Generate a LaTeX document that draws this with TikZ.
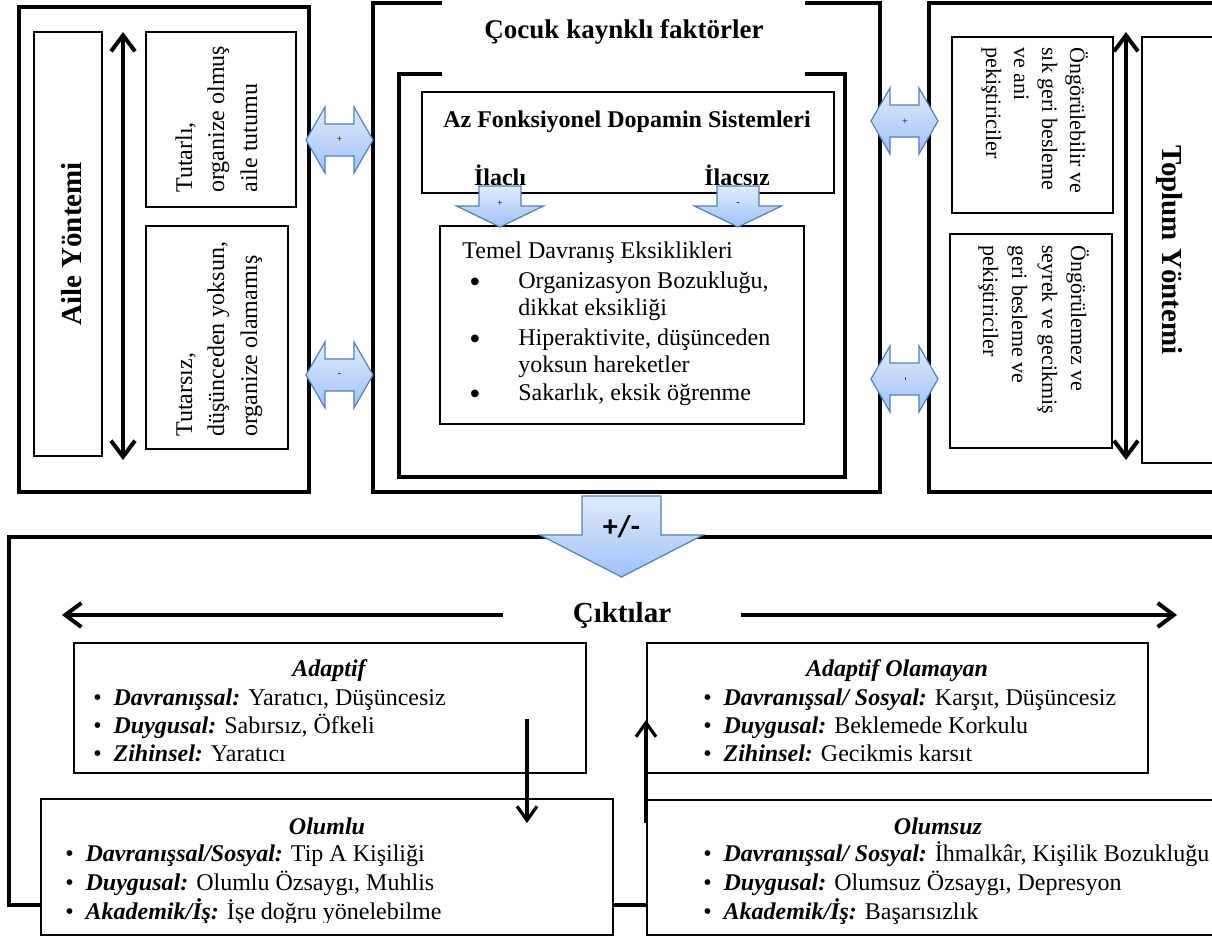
\documentclass[tikz,border=0pt]{standalone}
\usepackage{fontspec}
\setmainfont{Liberation Serif}
\newfontfamily\sansb{Carlito}
\usetikzlibrary{arrows.meta}
\definecolor{abord}{RGB}{79,129,189}
\definecolor{atop}{RGB}{224,235,252}
\definecolor{abot}{RGB}{160,193,245}
\tikzset{
  thickbox/.style={draw=black, line width=2pt},
  thinbox/.style={draw=black, line width=0.8pt, fill=white},
  blockarrow/.style={draw=abord, line width=0.6pt, top color=atop, bottom color=abot},
  bigdarrow/.style={line width=2pt, {Straight Barb[length=8pt,width=12pt]}-{Straight Barb[length=8pt,width=12pt]}},
  harrow/.style={line width=2pt, -{Straight Barb[length=8pt,width=12pt]}},
  varrow/.style={line width=1.6pt, -{Straight Barb[length=7pt,width=10pt]}},
  txt/.style={font=\fontsize{12}{14}\selectfont, inner sep=0pt},
  txts/.style={font=\fontsize{11}{13}\selectfont, inner sep=0pt},
  ttl/.style={font=\fontsize{14.5}{17}\selectfont\bfseries, inner sep=0pt},
  tiny/.style={font=\fontsize{5}{5}\selectfont, inner sep=0pt},
}
\newcommand\pbox[6]{\node[#6, anchor=north west, inner sep=0pt, outer sep=0pt,
  minimum width={(#4-#2)*0.5pt}, minimum height={(#5-#3)*0.5pt}] (#1) at (#2,#3) {};}
\newcommand\hdbl[3]{%
  \coordinate (#1) at (#2,#3);
  \draw[blockarrow] (#1) ++(-33.5,0) -- ++(19,-33) -- ++(0,17) -- ++(29,0) -- ++(0,-17)
    -- ++(19,33) -- ++(-19,33) -- ++(0,-17) -- ++(-29,0) -- ++(0,17) -- cycle;}
\newcommand\sdown[2]{%
  \coordinate (#1) at (#2,186);
  \draw[blockarrow] (#1) ++(-21,0) -- ++(42,0) -- ++(0,20) -- ++(22.5,0) -- ++(-43.5,21)
    -- ++(-43.5,-21) -- ++(22.5,0) -- cycle;}
\newcommand\sbul{\textbullet}
\newcommand\bigbul{\raisebox{-2.2pt}{\fontsize{16}{16}\selectfont\textbullet}}
\newcommand\bitem[2]{\sbul\hspace{5.9pt}\textbf{\textit{#1}} #2}

\begin{document}
\begin{tikzpicture}[x=0.5pt,y=-0.5pt]
\clip (0,0) rectangle (1212,937);
\fill[white] (0,0) rectangle (1212,937);

% ---------------- Aile Yontemi ----------------
\pbox{aile}{19}{7}{309}{492}{thickbox}
\pbox{aileIn}{34}{32}{102}{456}{thinbox}
\pbox{aileA}{146}{32}{296}{207}{thinbox}
\pbox{aileB}{146}{226}{288}{449}{thinbox}
\node[ttl, rotate=90, anchor=base] (aileT) at (82,244) {Aile Yöntemi};
\node[txt, rotate=90, anchor=base west] (aA1) at (192,193) {Tutarlı,};
\node[txt, rotate=90, anchor=base west] (aA2) at (224,193) {organize olmuş};
\node[txt, rotate=90, anchor=base west] (aA3) at (257,193) {aile tutumu};
\node[txt, rotate=90, anchor=base west] (aB1) at (192,437) {Tutarsız,};
\node[txt, rotate=90, anchor=base west] (aB2) at (224,437) {düşünceden yoksun,};
\node[txt, rotate=90, anchor=base west] (aB3) at (257,437) {organize olamamış};
\coordinate (aileU) at (123,32);
\coordinate (aileD) at (123,460);
\draw[bigdarrow] (aileU) -- (aileD);

% ---------------- Cocuk kaynakli ----------------
\pbox{center}{373}{3}{880}{492}{thickbox}
\pbox{centerIn}{399}{74}{845}{477}{thickbox}
\fill[white] (442,-5) rectangle (805,79);
\node[font=\fontsize{13.5}{16}\selectfont\bfseries, inner sep=0pt, anchor=base] (cocuk) at (624,39) {Çocuk kaynklı faktörler};
\pbox{dopa}{422}{92}{834}{193}{thinbox}
\node[txt, font=\fontsize{12}{14}\selectfont\bfseries, anchor=base] (dopaT) at (627,127) {Az Fonksiyonel Dopamin Sistemleri};
\begin{scope}
  \clip (422,140) rectangle (834,184);
  \node[txt, font=\fontsize{12}{14}\selectfont\bfseries, anchor=base] (ilacli) at (500,185) {İlaçlı};
  \node[txt, font=\fontsize{12}{14}\selectfont\bfseries, anchor=base] (ilacsiz) at (737,185) {İlaçsız};
\end{scope}
\pbox{temel}{440}{226}{804}{424}{thinbox}
\node[txt, anchor=base west] (temelT) at (462,258) {Temel Davranış Eksiklikleri};
\node[txt, anchor=base] (tb1) at (475,288) {\bigbul};
\node[txt, anchor=base west] (t1a) at (518,288) {Organizasyon Bozukluğu,};
\node[txt, anchor=base west] (t1b) at (518,315) {dikkat eksikliği};
\node[txt, anchor=base] (tb2) at (475,345) {\bigbul};
\node[txt, anchor=base west] (t2a) at (518,345) {Hiperaktivite, düşünceden};
\node[txt, anchor=base west] (t2b) at (518,372) {yoksun hareketler};
\node[txt, anchor=base] (tb3) at (475,400) {\bigbul};
\node[txt, anchor=base west] (t3a) at (518,400) {Sakarlık, eksik öğrenme};
\sdown{dL}{500}
\sdown{dR}{738}
\node[tiny] (dLl) at (500,204) {+};
\node[tiny] (dRl) at (738,204) {-};

% ---------------- Toplum Yontemi ----------------
\pbox{toplum}{929}{3}{1240}{492}{thickbox}
\pbox{topIn}{1142}{37}{1240}{463}{thinbox}
\pbox{topA}{952}{37}{1113}{213}{thinbox}
\pbox{topB}{950}{234}{1112}{448}{thinbox}
\node[ttl, rotate=-90, anchor=base] (topT) at (1162,250) {Toplum Yöntemi};
\node[txts, rotate=-90, anchor=base west] (tA1) at (1070,47) {Öngörülebilir ve};
\node[txts, rotate=-90, anchor=base west] (tA2) at (1042,47) {sık geri besleme};
\node[txts, rotate=-90, anchor=base west] (tA3) at (1014,47) {ve ani};
\node[txts, rotate=-90, anchor=base west] (tA4) at (986,47) {pekiştiriciler};
\node[txts, rotate=-90, anchor=base west] (tB1) at (1071,245) {Öngörülemez ve};
\node[txts, rotate=-90, anchor=base west] (tB2) at (1042,245) {seyrek ve gecikmiş};
\node[txts, rotate=-90, anchor=base west] (tB3) at (1012,245) {geri besleme ve};
\node[txts, rotate=-90, anchor=base west] (tB4) at (983,245) {pekiştiriciler};
\coordinate (topU) at (1126,32);
\coordinate (topD) at (1126,460);
\draw[bigdarrow] (topU) -- (topD);

% ---------------- block double arrows ----------------
\hdbl{hL1}{339.5}{140}
\hdbl{hL2}{339.5}{375}
\hdbl{hR1}{904.5}{121}
\hdbl{hR2}{904.5}{379}
\node[tiny] (hL1l) at (hL1) {+};
\node[tiny] (hL2l) at (hL2) {-};
\node[tiny, rotate=-90] (hR1l) at (hR1) {+};
\node[tiny, rotate=-90] (hR2l) at (hR2) {-};

% ---------------- Ciktilar ----------------
\pbox{outp}{9}{537}{1240}{905}{thickbox}
\coordinate (bigA) at (621.5,496);
\draw[blockarrow] (bigA) ++(-39.5,0) -- ++(79,0) -- ++(0,39) -- ++(42,0) -- ++(-81.5,42)
  -- ++(-81.5,-42) -- ++(42,0) -- cycle;
\node[font=\sansb\fontsize{15}{15}\selectfont\bfseries, inner sep=0pt] (pm) at (621.5,527) {+/-};
\node[ttl, minimum width=119pt, minimum height=14pt] (cikti) at (622,615) {Çıktılar};
\coordinate (cikL) at (62,615);
\coordinate (cikR) at (1177,615);
\draw[harrow] (cikti.west) -- (cikL);
\draw[harrow] (cikti.east) -- (cikR);

\pbox{adap}{74}{643}{586}{773}{thinbox}
\pbox{nadap}{647}{643}{1148}{773}{thinbox}
\pbox{olumlu}{41}{799}{613}{935}{thinbox}
\pbox{olumsuz}{647}{800}{1240}{935}{thinbox}

\begin{scope}
  \clip (74,643) rectangle (586,760);
  \node[txt, anchor=base] (adT) at (330,676) {\textbf{\textit{Adaptif}}};
  \node[txt, anchor=base west] (ad1) at (93,705) {\bitem{Davranışsal:}{Yaratıcı, Düşüncesiz}};
  \node[txt, anchor=base west] (ad2) at (93,733) {\bitem{Duygusal:}{Sabırsız, Öfkeli}};
  \node[txt, anchor=base west] (ad3) at (93,761) {\bitem{Zihinsel:}{Yaratıcı}};
\end{scope}
\begin{scope}
  \clip (647,643) rectangle (1148,760);
  \node[txt, anchor=base] (naT) at (897,676) {\textbf{\textit{Adaptif Olamayan}}};
  \node[txt, anchor=base west] (na1) at (703,705) {\bitem{Davranışsal/ Sosyal:}{Karşıt, Düşüncesiz}};
  \node[txt, anchor=base west] (na2) at (703,733) {\bitem{Duygusal:}{Beklemede Korkulu}};
  \node[txt, anchor=base west] (na3) at (703,761) {\bitem{Zihinsel:}{Gecikmiş karşıt}};
\end{scope}
\begin{scope}
  \clip (41,799) rectangle (613,922);
  \node[txt, anchor=base] (olT) at (327,834) {\textbf{\textit{Olumlu}}};
  \node[txt, anchor=base west] (ol1) at (65,861) {\bitem{Davranışsal/Sosyal:}{Tip A Kişiliği}};
  \node[txt, anchor=base west] (ol2) at (65,890) {\bitem{Duygusal:}{Olumlu Özsaygı, Muhlis}};
  \node[txt, anchor=base west] (ol3) at (65,919) {\bitem{Akademik/İş:}{İşe doğru yönelebilme}};
\end{scope}
\node[txt, anchor=base] (osT) at (938,834) {\textbf{\textit{Olumsuz}}};
\node[txt, anchor=base west] (os1) at (703,861) {\bitem{Davranışsal/ Sosyal:}{İhmalkâr, Kişilik Bozukluğu}};
\node[txt, anchor=base west] (os2) at (703,890) {\bitem{Duygusal:}{Olumsuz Özsaygı, Depresyon}};
\node[txt, anchor=base west] (os3) at (703,919) {\bitem{Akademik/İş:}{Başarısızlık}};

\coordinate (dnA) at (527,719);
\coordinate (dnB) at (527,823);
\draw[varrow] (dnA) -- (dnB);
\coordinate (upA) at (646,823);
\coordinate (upB) at (646,720);
\draw[varrow] (upA) -- (upB);
\end{tikzpicture}
\end{document}
